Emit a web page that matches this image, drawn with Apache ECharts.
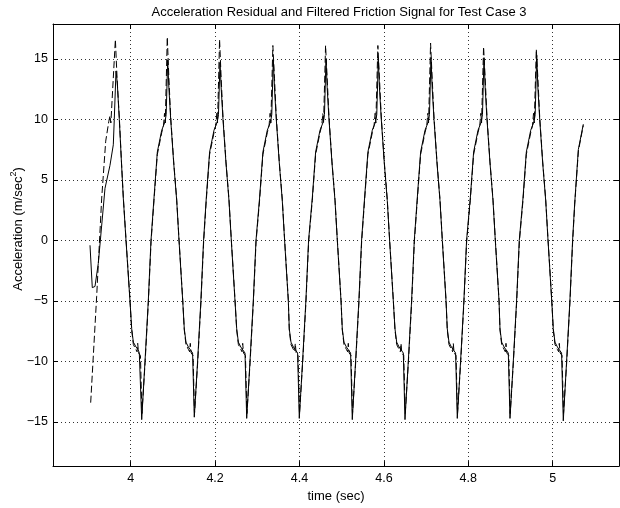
<!DOCTYPE html>
<html><head><meta charset="utf-8">
<script src="https://cdn.jsdelivr.net/npm/echarts@6/dist/echarts.min.js"></script>
<style>html,body{margin:0;padding:0;background:#fff}#c{width:620px;height:508px}</style>
</head><body><div id="c"></div>
<script>
// Acceleration residual (solid)
const residualTime = [
 3.9036,3.9090,3.9154,3.9232,3.9391,3.9509,3.9588,3.9611,3.9652,
 3.9682,3.9730,3.9780,3.9825,3.9889,3.9983,4.0024,4.0063,4.0126,4.0174,4.0204,4.0261,4.0339,4.0417,4.0481,
 4.0552,4.0631,4.0735,4.0813,4.0841,4.0877,4.0905,4.0948,4.1019,4.1090,4.1145,4.1233,4.1270,4.1310,4.1367,4.1407,4.1467,4.1507,4.1585,4.1663,4.1727,
 4.1791,4.1870,4.1974,4.2052,4.2080,4.2116,4.2144,4.2187,4.2258,4.2329,4.2384,4.2472,4.2512,4.2552,4.2609,4.2649,4.2709,4.2749,4.2827,4.2905,4.2969,
 4.3054,4.3133,4.3237,4.3315,4.3343,4.3379,4.3407,4.3450,4.3521,4.3592,4.3647,4.3735,4.3758,4.3798,4.3855,4.3895,4.3955,4.3995,4.4073,4.4151,4.4215,
 4.4303,4.4382,4.4486,4.4564,4.4592,4.4628,4.4656,4.4699,4.4770,4.4841,4.4896,4.4984,4.5014,4.5054,4.5111,4.5151,4.5211,4.5251,4.5329,4.5407,4.5471,
 4.5542,4.5621,4.5725,4.5803,4.5831,4.5867,4.5895,4.5938,4.6009,4.6080,4.6135,4.6223,4.6263,4.6303,4.6360,4.6400,4.6460,4.6500,4.6578,4.6656,4.6720,
 4.6791,4.6870,4.6974,4.7052,4.7080,4.7116,4.7144,4.7187,4.7258,4.7329,4.7384,4.7472,4.7502,4.7542,4.7599,4.7639,4.7699,4.7739,4.7817,4.7895,4.7959,
 4.8047,4.8126,4.8230,4.8308,4.8336,4.8372,4.8400,4.8443,4.8514,4.8585,4.8640,4.8728,4.8751,4.8791,4.8848,4.8888,4.8948,4.8988,4.9066,4.9144,4.9208,
 4.9296,4.9375,4.9479,4.9557,4.9585,4.9621,4.9649,4.9692,4.9763,4.9834,4.9889,4.9977,5.0014,5.0054,5.0111,5.0151,5.0211,5.0251,5.0329,5.0407,5.0471,
 5.0520,5.0607,5.0725
];
const residualAccel = [
 -0.4,-3.9,-3.8,-1.9,4.3,6.2,7.9,10.0,14.0,
 13.0,10.0,6.5,3.5,0.0,-5.0,-7.3,-8.4,-8.8,-9.0,-9.3,-14.8,-10.0,-5.0,0.0,
 3.5,7.3,9.1,9.8,10.4,14.9,12.6,10.0,6.4,3.3,0.0,-5.0,-7.3,-8.4,-8.8,-9.0,-9.3,-14.6,-10.0,-5.0,0.0,
 3.5,7.3,9.1,9.8,10.4,14.7,12.6,10.0,6.4,3.3,0.0,-5.0,-7.3,-8.4,-8.8,-9.0,-9.3,-14.7,-10.0,-5.0,0.0,
 3.5,7.3,9.1,9.8,10.4,15.0,12.6,10.0,6.4,3.3,0.0,-5.0,-7.3,-8.4,-8.8,-9.0,-9.3,-14.7,-10.0,-5.0,0.0,
 3.5,7.3,9.1,9.8,10.4,15.0,12.6,10.0,6.4,3.3,0.0,-5.0,-7.3,-8.4,-8.8,-9.0,-9.3,-14.8,-10.0,-5.0,0.0,
 3.5,7.3,9.1,9.8,10.4,15.0,12.6,10.0,6.4,3.3,0.0,-5.0,-7.3,-8.4,-8.8,-9.0,-9.3,-14.8,-10.0,-5.0,0.0,
 3.5,7.3,9.1,9.8,10.4,15.1,12.6,10.0,6.4,3.3,0.0,-5.0,-7.3,-8.4,-8.8,-9.0,-9.3,-14.7,-10.0,-5.0,0.0,
 3.5,7.3,9.1,9.8,10.4,15.1,12.6,10.0,6.4,3.3,0.0,-5.0,-7.3,-8.4,-8.8,-9.0,-9.3,-14.7,-10.0,-5.0,0.0,
 3.5,7.3,9.1,9.8,10.4,15.3,12.6,10.0,6.4,3.3,0.0,-5.0,-7.3,-8.4,-8.8,-9.0,-9.3,-14.9,-10.0,-5.0,0.0,
 3.0,7.5,9.6
];
// Filtered friction signal (dashed)
const frictionTime = [
 3.9052,3.9194,3.9313,3.9408,3.9480,3.9509,3.9530,3.9637,
 3.9680,3.9730,3.9780,3.9825,3.9889,3.9983,4.0024,4.0063,4.0121,4.0151,4.0166,4.0186,4.0231,4.0266,4.0341,4.0419,4.0483,
 4.0552,4.0631,4.0735,4.0777,4.0802,4.0819,4.0867,4.0905,4.0948,4.1019,4.1090,4.1145,4.1233,4.1270,4.1310,4.1367,4.1397,4.1412,4.1432,4.1477,4.1512,4.1587,4.1665,4.1729,
 4.1791,4.1870,4.1974,4.2016,4.2041,4.2058,4.2106,4.2144,4.2187,4.2258,4.2329,4.2384,4.2472,4.2512,4.2552,4.2609,4.2639,4.2654,4.2674,4.2719,4.2754,4.2829,4.2907,4.2971,
 4.3054,4.3133,4.3237,4.3279,4.3304,4.3321,4.3369,4.3407,4.3450,4.3521,4.3592,4.3647,4.3735,4.3758,4.3798,4.3855,4.3885,4.3900,4.3920,4.3965,4.4000,4.4075,4.4153,4.4217,
 4.4303,4.4382,4.4486,4.4528,4.4553,4.4570,4.4618,4.4656,4.4699,4.4770,4.4841,4.4896,4.4984,4.5014,4.5054,4.5111,4.5141,4.5156,4.5176,4.5221,4.5256,4.5331,4.5409,4.5473,
 4.5542,4.5621,4.5725,4.5767,4.5792,4.5809,4.5857,4.5895,4.5938,4.6009,4.6080,4.6135,4.6223,4.6263,4.6303,4.6360,4.6390,4.6405,4.6425,4.6470,4.6505,4.6580,4.6658,4.6722,
 4.6791,4.6870,4.6974,4.7016,4.7041,4.7058,4.7106,4.7144,4.7187,4.7258,4.7329,4.7384,4.7472,4.7502,4.7542,4.7599,4.7629,4.7644,4.7664,4.7709,4.7744,4.7819,4.7897,4.7961,
 4.8047,4.8126,4.8230,4.8272,4.8297,4.8314,4.8362,4.8400,4.8443,4.8514,4.8585,4.8640,4.8728,4.8751,4.8791,4.8848,4.8878,4.8893,4.8913,4.8958,4.8993,4.9068,4.9146,4.9210,
 4.9296,4.9375,4.9479,4.9521,4.9546,4.9563,4.9611,4.9649,4.9692,4.9763,4.9834,4.9889,4.9977,5.0014,5.0054,5.0111,5.0141,5.0156,5.0176,5.0221,5.0256,5.0331,5.0409,5.0473,
 5.0522,5.0609,5.0725
];
const frictionAccel = [
 -13.4,-4.6,3.5,8.2,9.8,10.3,9.7,16.6,
 13.2,10.2,6.6,3.6,0.1,-4.9,-7.4,-8.6,-9.0,-9.2,-8.5,-9.3,-9.5,-14.3,-10.1,-5.1,-0.1,
 3.3,7.1,8.9,9.5,10.5,9.7,16.8,13.4,10.2,6.5,3.4,0.1,-4.9,-7.4,-8.6,-9.0,-9.2,-8.5,-9.3,-9.5,-14.3,-10.1,-5.1,-0.1,
 3.3,7.1,8.9,9.5,10.5,9.7,16.6,13.4,10.2,6.5,3.4,0.1,-4.9,-7.4,-8.6,-9.0,-9.2,-8.5,-9.3,-9.5,-14.3,-10.1,-5.1,-0.1,
 3.3,7.1,8.9,9.5,10.5,9.7,16.1,13.4,10.2,6.5,3.4,0.1,-4.9,-7.4,-8.6,-9.0,-9.2,-8.5,-9.3,-9.5,-14.3,-10.1,-5.1,-0.1,
 3.3,7.1,8.9,9.5,10.5,9.7,16.1,13.4,10.2,6.5,3.4,0.1,-4.9,-7.4,-8.6,-9.0,-9.2,-8.5,-9.3,-9.5,-14.3,-10.1,-5.1,-0.1,
 3.3,7.1,8.9,9.5,10.5,9.7,16.1,13.4,10.2,6.5,3.4,0.1,-4.9,-7.4,-8.6,-9.0,-9.2,-8.5,-9.3,-9.5,-14.3,-10.1,-5.1,-0.1,
 3.3,7.1,8.9,9.5,10.5,9.7,16.3,13.4,10.2,6.5,3.4,0.1,-4.9,-7.4,-8.6,-9.0,-9.2,-8.5,-9.3,-9.5,-14.3,-10.1,-5.1,-0.1,
 3.3,7.1,8.9,9.5,10.5,9.7,16.0,13.4,10.2,6.5,3.4,0.1,-4.9,-7.4,-8.6,-9.0,-9.2,-8.5,-9.3,-9.5,-14.3,-10.1,-5.1,-0.1,
 3.3,7.1,8.9,9.5,10.5,9.7,15.8,13.4,10.2,6.5,3.4,0.1,-4.9,-7.4,-8.6,-9.0,-9.2,-8.5,-9.3,-9.5,-14.3,-10.1,-5.1,-0.1,
 3.0,7.4,9.5
];
const xTicks = [4, 4.2, 4.4, 4.6, 4.8, 5];
const yTicks = [-15, -10, -5, 0, 5, 10, 15];
const titleText = 'Acceleration Residual and Filtered Friction Signal for Test Case 3';
const xLabel = 'time (sec)';

const FONT = "'Liberation Sans', Arial, Helvetica, sans-serif";
const xMin = 3.8159, xMax = 5.1571, yMin = -18.64, yMax = 17.878;
const pair = (ts, vs) => ts.map((t, i) => [t, vs[i]]);
const fmtY = v => (v < 0 ? '\u2212' + (-v) : String(v));
const fmtX = v => String(+(+v).toFixed(1));

const chart = echarts.init(document.getElementById('c'), null, {renderer: 'canvas'});
const axisCommon = {
  type: 'value',
  axisLine: {show: true, onZero: false, lineStyle: {color: '#000', width: 1}},
};
chart.setOption({
  animation: false,
  backgroundColor: '#fff',
  grid: {left: 53, right: 1, top: 24, bottom: 36, containLabel: false},
  xAxis: [
    Object.assign({}, axisCommon, {
      position: 'bottom', min: xMin, max: xMax,
      axisTick: {show: true, inside: true, length: 5, customValues: xTicks, lineStyle: {color: '#000'}},
      axisLabel: {customValues: xTicks, formatter: fmtX, color: '#000', fontSize: 12.5, fontFamily: FONT, margin: 6},
      splitLine: {show: true, lineStyle: {color: '#333', width: 1, type: [1, 3]}},
      name: xLabel, nameLocation: 'middle', nameGap: 19,
      nameTextStyle: {color: '#000', fontSize: 13, fontFamily: FONT}
    }),
    Object.assign({}, axisCommon, {
      position: 'top', min: xMin, max: xMax,
      axisTick: {show: true, inside: true, length: 5, customValues: xTicks, lineStyle: {color: '#000'}},
      axisLabel: {show: false}, splitLine: {show: false}
    })
  ],
  yAxis: [
    Object.assign({}, axisCommon, {
      position: 'left', min: yMin, max: yMax,
      axisTick: {show: true, inside: true, length: 5, customValues: yTicks, lineStyle: {color: '#000'}},
      axisLabel: {customValues: yTicks, formatter: fmtY, color: '#000', fontSize: 12.5, fontFamily: FONT, margin: 5},
      splitLine: {show: true, lineStyle: {color: '#333', width: 1, type: [1, 3]}}
    }),
    Object.assign({}, axisCommon, {
      position: 'right', min: yMin, max: yMax,
      axisTick: {show: true, inside: true, length: 5, customValues: yTicks, lineStyle: {color: '#000'}},
      axisLabel: {show: false}, splitLine: {show: false}
    })
  ],
  graphic: [
    {type: 'text', x: 339, y: 12, silent: true,
     style: {text: titleText, fill: '#000', fontSize: 13, fontFamily: FONT, align: 'center', verticalAlign: 'middle'}},
    {type: 'text', x: 18, y: 229, rotation: Math.PI / 2, silent: true,
     style: {text: '{a|Acceleration (m/sec}{s|2}{a|)}', align: 'center', verticalAlign: 'middle',
       rich: {a: {fontSize: 13, fontFamily: FONT, fill: '#000', lineHeight: 17},
              s: {fontSize: 9, fontFamily: FONT, fill: '#000', lineHeight: 9, verticalAlign: 'top'}}}}
  ],
  series: [
    {name: 'Acceleration residual', type: 'line', xAxisIndex: 0, yAxisIndex: 0,
     data: pair(residualTime, residualAccel), showSymbol: false, symbol: 'none',
     lineStyle: {color: '#000', width: 1, type: 'solid'}},
    {name: 'Filtered friction', type: 'line', xAxisIndex: 0, yAxisIndex: 0,
     data: pair(frictionTime, frictionAccel), showSymbol: false, symbol: 'none',
     lineStyle: {color: '#000', width: 1, type: [7, 3]}}
  ]
});
</script></body></html>
